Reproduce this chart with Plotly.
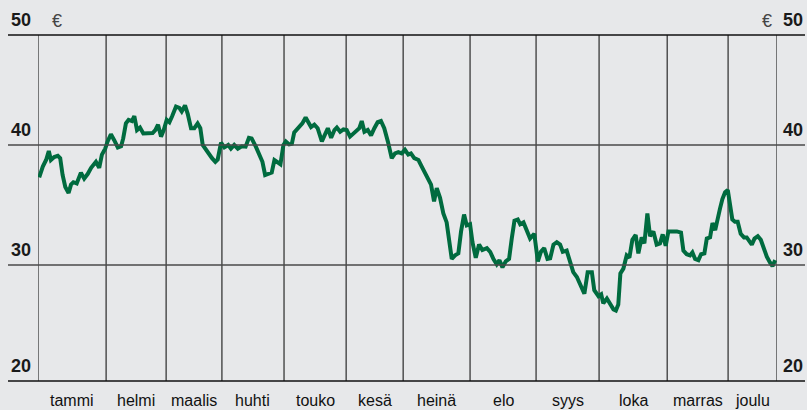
import plotly.graph_objects as go

# Share price over the year, € (x = trading day of the year)
day = [
    0.4, 1.6, 2.7, 3.6, 4.3, 5.4, 6.6, 7.4, 8.2, 9.1, 10.2, 11.0, 11.8, 12.9, 14.3, 15.4,
    16.6, 17.7, 19.3, 20.4, 21.3, 22.4, 23.2, 24.3, 25.4, 26.6, 27.7, 28.4, 29.3, 30.2,
    31.3, 32.1, 33.0, 34.0, 35.1, 36.6, 38.2, 39.1, 40.0, 41.0, 41.9, 42.9, 43.8, 44.7,
    46.0, 47.1, 47.9, 49.0, 49.9, 51.0, 52.1, 53.2, 54.1, 54.9, 56.0, 56.9, 58.0, 59.1,
    59.9, 61.0, 62.1, 63.4, 64.3, 65.4, 66.6, 67.9, 69.2, 70.3, 71.2, 72.6, 73.7, 74.8,
    75.7, 76.8, 77.9, 78.8, 79.9, 80.8, 81.8, 82.6, 83.7, 84.6, 85.4, 86.8, 88.1, 89.2,
    90.1, 91.0, 92.1, 93.2, 94.6, 95.7, 96.6, 97.7, 98.8, 99.6, 100.7, 101.8, 102.9,
    104.0, 105.1, 106.2, 107.1, 107.9, 108.8, 109.9, 111.0, 112.1, 113.2, 114.3, 115.4,
    116.6, 117.9, 119.0, 120.1, 121.2, 122.3, 123.4, 124.3, 125.4, 126.8, 127.9, 129.2,
    130.1, 131.0, 132.0, 132.9, 134.0, 135.1, 136.2, 137.0, 137.9, 139.0, 140.1, 141.0,
    142.0, 142.9, 144.0, 144.8, 145.9, 147.0, 148.1, 149.6, 150.7, 151.8, 152.9, 153.8,
    154.8, 155.9, 157.0, 157.9, 158.8, 159.9, 160.7, 161.8, 162.7, 164.0, 165.4, 166.6,
    167.6, 168.7, 169.8, 170.7, 171.8, 172.9, 174.0, 174.9, 176.2, 177.3, 178.4, 179.6,
    180.7, 182.1, 183.2, 184.6, 185.4, 186.8, 187.7, 188.4, 189.6, 190.7, 191.8, 192.6,
    193.4, 194.1, 195.1, 196.2, 197.1, 198.1, 199.2, 200.1, 201.2, 202.1, 203.1, 204.0,
    205.1, 206.2, 207.3, 208.2, 209.2, 210.1, 211.4, 212.9, 214.3, 215.1, 216.2, 217.3,
    218.1, 219.0, 220.1, 221.0, 222.1, 222.9, 224.0, 224.8, 225.7, 226.6, 227.3, 228.1,
    229.0, 229.9, 230.7, 231.4, 232.3, 233.2, 234.2, 235.3, 236.2, 237.3, 237.9, 238.8,
    239.9, 240.9, 241.8, 242.9, 244.0, 244.8, 245.7,
]
price = [
    37.3, 38.2, 38.75, 39.5, 38.75, 39.0, 39.1, 38.9, 37.5, 36.5, 36.0, 36.7, 36.9, 36.8,
    37.7, 37.2, 37.6, 38.1, 38.6, 38.1, 39.2, 39.7, 40.3, 40.9, 40.4, 39.8, 39.9, 40.55,
    41.8, 42.1, 42.0, 42.4, 41.25, 41.45, 40.97, 41.0, 41.0, 41.25, 41.7, 40.7, 41.25,
    42.1, 41.9, 42.4, 43.2, 43.1, 42.8, 43.3, 42.6, 41.4, 41.4, 41.8, 41.4, 40.0, 39.6,
    39.2, 38.9, 38.6, 38.8, 40.2, 39.8, 40.0, 39.7, 40.0, 39.7, 39.9, 39.86, 40.6, 40.55,
    39.86, 39.2, 38.6, 37.5, 37.6, 37.7, 38.75, 38.6, 38.4, 40.0, 40.3, 40.05, 40.1,
    41.05, 41.45, 41.8, 42.3, 41.9, 41.5, 41.7, 41.4, 40.3, 40.97, 41.4, 40.6, 41.25,
    41.45, 41.1, 41.3, 41.25, 40.7, 40.97, 41.2, 41.4, 42.0, 41.1, 41.25, 40.8, 41.4,
    41.9, 42.0, 41.4, 40.3, 38.9, 39.3, 39.4, 39.3, 39.6, 39.2, 39.3, 38.9, 38.75, 38.2,
    37.6, 37.1, 36.7, 35.3, 36.4, 35.6, 34.3, 33.55, 32.2, 30.5, 30.8, 30.97, 32.8, 34.2,
    33.3, 33.4, 31.9, 30.6, 31.7, 31.25, 31.4, 31.1, 30.5, 30.06, 30.4, 29.8, 30.3, 30.5,
    32.2, 33.7, 33.8, 33.4, 33.55, 32.9, 32.2, 32.6, 30.3, 31.1, 31.4, 30.5, 30.55, 31.7,
    31.9, 31.7, 31.1, 31.2, 30.3, 29.4, 29.0, 28.4, 27.6, 29.4, 29.4, 27.9, 27.4, 27.55,
    26.8, 27.2, 26.7, 26.3, 26.2, 26.7, 29.3, 29.7, 30.8, 30.6, 32.1, 32.5, 30.97, 32.3,
    31.8, 34.3, 32.4, 32.8, 31.7, 31.8, 32.55, 31.6, 32.8, 32.8, 32.8, 32.7, 31.2, 30.9,
    30.8, 31.05, 30.5, 30.4, 30.9, 30.97, 32.2, 32.3, 33.5, 32.9, 33.75, 34.7, 35.5,
    36.06, 36.25, 34.7, 33.8, 33.6, 33.6, 32.6, 32.3, 32.3, 31.9, 31.7, 32.2, 32.4, 32.1,
    31.4, 30.7, 30.2, 29.9, 30.4,
]

months = ["tammi", "helmi", "maalis", "huhti", "touko", "kesä",
          "heinä", "elo", "syys", "loka", "marras", "joulu"]
# First trading day of each month, plus the end of the period
month_edges = [0, 22.7, 42.7, 61.3, 82, 102.7, 121.7, 144, 166, 187, 209.7, 230, 246.3]

y_ticks = [20, 30, 40, 50]
y_range = [20.33, 49.17]

BG = "#e7e8ea"
GREEN = "#006b3f"
LINE = "#2a2a2a"
FONT = "Liberation Sans, Arial, sans-serif"

fig = go.Figure()
fig.add_trace(go.Scatter(
    x=day, y=price, mode="lines",
    line=dict(color=GREEN, width=4, shape="linear"),
    hoverinfo="skip", showlegend=False,
))

W, H = 807, 410
ml, mr, mt, mb = 38, 30, 35, 29
pw = W - ml - mr
x_left = (8 - ml) / pw       # horizontal rules start left of the plot
x_right = (805 - ml) / pw    # ...and run past its right edge

shapes = []
# Horizontal rules: frame top/bottom and the inner value lines
for v in y_ticks:
    if v <= y_range[0]:
        shapes.append(dict(type="line", xref="paper", yref="paper", x0=x_left, x1=x_right,
                           y0=0, y1=0, line=dict(color="#111", width=1.3)))
    elif v >= y_range[1]:
        shapes.append(dict(type="line", xref="paper", yref="paper", x0=x_left, x1=x_right,
                           y0=1, y1=1, line=dict(color="#111", width=1.3)))
    else:
        shapes.append(dict(type="line", xref="paper", yref="y", x0=x_left, x1=x_right,
                           y0=v, y1=v, line=dict(color="#4a4a4a", width=1.4)))
# Month dividers
for e in month_edges:
    shapes.append(dict(type="line", xref="x", yref="paper", x0=e, x1=e, y0=0, y1=1,
                       line=dict(color=LINE, width=1.2), layer="below"))

annotations = []
for v in y_ticks:
    if v <= y_range[0]:
        yref, yv = "paper", 0
    elif v >= y_range[1]:
        yref, yv = "paper", 1
    else:
        yref, yv = "y", v
    for xa, anchor in ((x_left + 0.001, "left"), (x_right, "right")):
        annotations.append(dict(
            text=f"<b>{v}</b>", xref="paper", yref=yref, x=xa, y=yv,
            xanchor=anchor, yanchor="bottom", yshift=3, showarrow=False,
            font=dict(family=FONT, size=18, color="#1a1a1a"),
        ))
# Currency marks next to the top labels
for xa in ((57 - ml) / pw, (767 - ml) / pw):
    annotations.append(dict(
        text="€", xref="paper", yref="paper", x=xa, y=1, xanchor="center",
        yanchor="bottom", yshift=2, showarrow=False,
        font=dict(family="Liberation Sans", size=18, color="#444"),
    ))
# Month names under each month
for i, m in enumerate(months):
    mid = (month_edges[i] + month_edges[i + 1]) / 2
    annotations.append(dict(
        text=m, xref="x", yref="paper", x=mid, y=0, xanchor="center",
        yanchor="top", yshift=-9, showarrow=False,
        font=dict(family=FONT, size=16, color="#111"),
    ))

fig.update_layout(
    width=W, height=H,
    margin=dict(l=ml, r=mr, t=mt, b=mb),
    paper_bgcolor=BG, plot_bgcolor=BG,
    shapes=shapes, annotations=annotations,
    xaxis=dict(range=[0, month_edges[-1]], showgrid=False, zeroline=False,
               showticklabels=False, ticks="", fixedrange=True),
    yaxis=dict(range=y_range, showgrid=False, zeroline=False,
               showticklabels=False, ticks="", fixedrange=True),
)

fig.write_html("out.html")
